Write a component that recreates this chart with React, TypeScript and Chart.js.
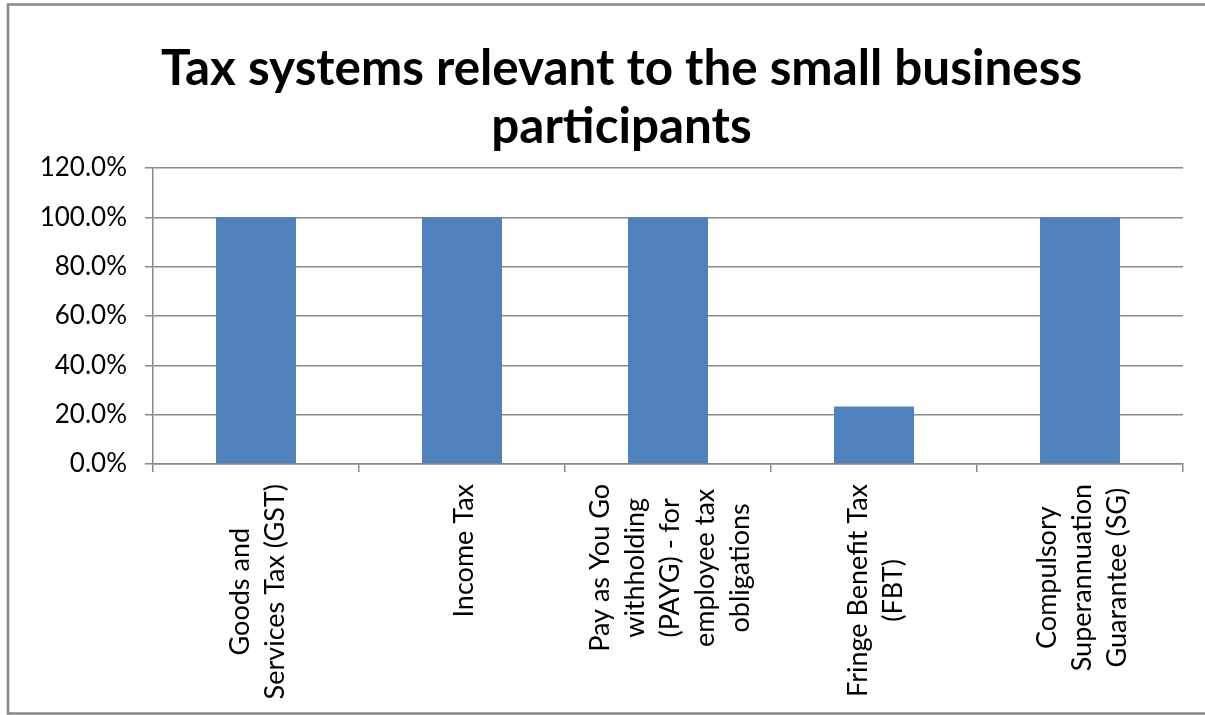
import React, { useEffect, useRef } from 'react';
import { Chart, registerables } from 'chart.js';

Chart.register(...registerables);

const titleLines = ['Tax systems relevant to the small business', 'participants'];
const categories: string[][] = [
  ['Goods and', 'Services Tax (GST)'],
  ['Income Tax'],
  ['Pay as You Go', 'withholding', '(PAYG) - for', 'employee tax', 'obligations'],
  ['Fringe Benefit Tax', '(FBT)'],
  ['Compulsory', 'Superannuation', 'Guarantee (SG)'],
];
const values = [100, 100, 100, 23.3, 100];
const yTicks = [0, 20, 40, 60, 80, 100, 120];

const GRID = '#898989';

const framePlugin = {
  id: 'frame',
  beforeDraw(chart: any) {
    const ctx = chart.ctx;
    ctx.save();
    ctx.fillStyle = '#ffffff';
    ctx.fillRect(0, 0, chart.width, chart.height);
    ctx.strokeStyle = '#888888';
    ctx.lineWidth = 2.5;
    ctx.beginPath();
    ctx.moveTo(chart.width + 5, 4.5);
    ctx.lineTo(8, 4.5);
    ctx.lineTo(8, 713.5);
    ctx.lineTo(chart.width + 5, 713.5);
    ctx.stroke();
    ctx.restore();
  },
};

const titlePlugin = {
  id: 'customTitle',
  afterDraw(chart: any) {
    const ctx = chart.ctx;
    const size = 49.4;
    const lh = size * 1.17;
    ctx.save();
    ctx.font = `bold ${size}px Lato`;
    ctx.fillStyle = '#000000';
    ctx.textAlign = 'center';
    ctx.textBaseline = 'middle';
    const cx = chart.width / 2 + 19;
    titleLines.forEach((line, k) => {
      ctx.fillText(line, cx, 40 + lh / 2 + k * lh);
    });
    ctx.restore();
  },
};

const xLabelPlugin = {
  id: 'xLabels',
  afterDraw(chart: any) {
    const ctx = chart.ctx;
    const x = chart.scales.x;
    const topY = chart.chartArea.bottom + 20;
    const lh = 35;
    ctx.save();
    ctx.font = '27px Lato';
    ctx.fillStyle = '#000000';
    ctx.textAlign = 'center';
    ctx.textBaseline = 'middle';
    categories.forEach((lines, i) => {
      const cx = x.getPixelForValue(i) + 2;
      const L = Math.max(...lines.map((l) => ctx.measureText(l).width));
      ctx.save();
      ctx.translate(cx, topY);
      ctx.rotate(-Math.PI / 2);
      lines.forEach((line, k) => {
        const v = (k - (lines.length - 1) / 2) * lh;
        ctx.fillText(line, -L / 2, v);
      });
      ctx.restore();
    });
    ctx.restore();
  },
};

export default function App() {
  const ref = useRef<HTMLCanvasElement | null>(null);
  useEffect(() => {
    document.body.style.margin = '0';
    document.documentElement.style.overflow = 'hidden';
    if (!ref.current) return;
    const chart = new Chart(ref.current, {
      type: 'bar',
      data: {
        labels: categories.map((c) => c.join(' ')),
        datasets: [
          {
            data: values,
            backgroundColor: '#4F81BD',
            borderWidth: 0,
            barPercentage: 0.388,
            categoryPercentage: 1,
          },
        ],
      },
      options: {
        animation: false,
        responsive: false,
        maintainAspectRatio: false,
        layout: { padding: { left: 0, right: 22, top: 168, bottom: 0 } },
        plugins: {
          legend: { display: false },
          tooltip: { enabled: false },
          title: { display: false },
        },
        scales: {
          x: {
            grid: {
              offset: true,
              drawOnChartArea: false,
              drawTicks: true,
              tickLength: 8,
              color: GRID,
              lineWidth: 1.5,
            },
            border: { display: true, color: GRID, width: 1.5 },
            ticks: { display: false },
            afterFit: (s: any) => {
              s.height = 251;
            },
          },
          y: {
            min: 0,
            max: 120,
            afterBuildTicks: (s: any) => {
              s.ticks = yTicks.map((v) => ({ value: v }));
            },
            ticks: {
              callback: (v: any) => Number(v).toFixed(1) + '%',
              font: { family: 'Lato', size: 26 },
              color: '#000000',
              padding: 18,
            },
            grid: { color: GRID, lineWidth: 1.5, tickLength: 8 },
            border: { display: true, color: GRID, width: 1.5 },
            afterFit: (s: any) => {
              s.width = 153;
            },
          },
        },
      },
      plugins: [framePlugin, titlePlugin, xLabelPlugin],
    });
    return () => chart.destroy();
  }, []);
  return <canvas ref={ref} width={1205} height={715} style={{ display: 'block' }} />;
}
